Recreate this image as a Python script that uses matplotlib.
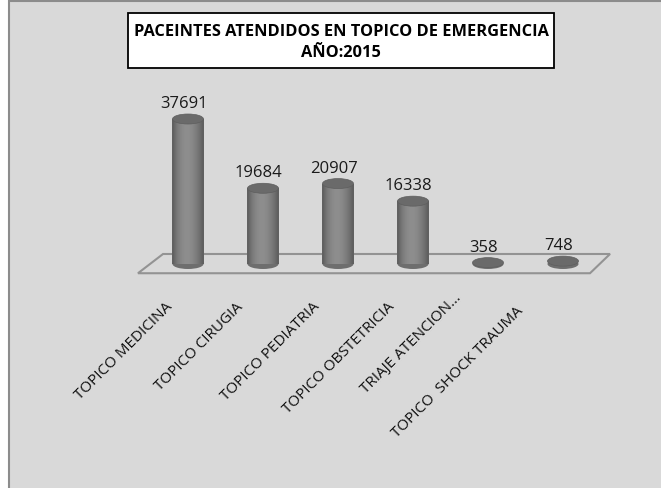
import matplotlib.pyplot as plt
import numpy as np
from matplotlib.patches import Ellipse, Polygon, Rectangle

categories = ['TOPICO MEDICINA', 'TOPICO CIRUGIA', 'TOPICO PEDIATRIA',
              'TOPICO OBSTETRICIA', 'TRIAJE ATENCION...', 'TOPICO  SHOCK TRAUMA']
values = [37691, 19684, 20907, 16338, 358, 748]
title_lines = ['PACEINTES ATENDIDOS EN TOPICO DE EMERGENCIA', 'AÑO:2015']

W, H = 661, 489
fig = plt.figure(figsize=(W / 100, H / 100), dpi=100)
fig.patch.set_facecolor('white')
bg = '#d9d9d9'
# chart area frame
fig.patches.append(Rectangle((9 / W, -0.01), 1.0, 1 - 2 / H + 0.01, transform=fig.transFigure,
                             facecolor=bg, edgecolor='#8c8c8c', linewidth=1.5, zorder=-5))

# axes placed so that index 0 sits at x=188px, 75px per category, y=0 at 265px
xlim = (-1.0, 6.0)
ylim = (-5000, 42000)
ppu = 145 / 37691.0
left = (188 - 75) / W
width = 75 * 7 / W
y0_from_bottom = H - 265
bottom = (y0_from_bottom - 5000 * ppu) / H
height = (47000 * ppu) / H
ax = fig.add_axes([left, bottom, width, height])
ax.set_xlim(*xlim)
ax.set_ylim(*ylim)
ax.axis('off')

n = len(values)
x = np.arange(n)

# floor
floor = Polygon([(-0.667, -2400), (-0.333, 2600), (n - 1 + 0.627, 2600), (n - 1 + 0.36, -2400)],
                closed=True, facecolor=bg, edgecolor='#939393', linewidth=1.5, zorder=1)
ax.add_patch(floor)

bw = 31 / 75.0
eh = 10 / ppu
nstrip = 30
t = (np.arange(nstrip) + 0.5) / nstrip
shade = 0.36 + 0.22 * np.sin(np.pi * t) ** 0.8 * (1 - 0.25 * t)
for i, v in enumerate(values):
    ax.add_patch(Ellipse((x[i], 0), bw, eh, facecolor='#6e6e6e', edgecolor='none', zorder=2))
    if v > 2000:
        xs = x[i] - bw / 2 + t * bw
        ax.bar(xs, v, width=bw / nstrip * 1.05, bottom=0,
               color=[str(s) for s in shade], edgecolor='none', zorder=3)
    ax.add_patch(Ellipse((x[i], v), bw, eh, facecolor='#6a6a6a', edgecolor='#5e5e5e',
                         linewidth=0.5, zorder=4))
    ax.annotate(str(v), (x[i], v), xytext=(-3, 11.5), textcoords='offset points',
                ha='center', va='center', fontsize=12, family='Open Sans', color='#1a1a1a')

# category labels (offsets in pixels)
offs = [(-18, -40), (-22, -40), (-21, -40), (-21, -40), (-29, -31), (-42, -44)]
for i, c in enumerate(categories):
    ox, oy = offs[i]
    ax.annotate(c, (x[i], 0), xytext=(ox * 0.72, oy * 0.72), textcoords='offset points',
                ha='right', va='center', rotation=45, rotation_mode='anchor',
                fontsize=11, family='Open Sans', color='#111111')

# title box
fig.patches.append(Rectangle((128 / W, 1 - 69 / H), 426 / W, 55 / H, transform=fig.transFigure,
                             facecolor='white', edgecolor='black', linewidth=1.3, zorder=5))
fig.text(341 / W, 1 - 32 / H, title_lines[0], ha='center', va='center', fontsize=11.8,
         family='Open Sans', fontweight='bold', zorder=6)
fig.text(341 / W, 1 - 53 / H, title_lines[1], ha='center', va='center', fontsize=11.8,
         family='Open Sans', fontweight='bold', zorder=6)

fig.savefig('out.png', dpi=100, facecolor='white')
